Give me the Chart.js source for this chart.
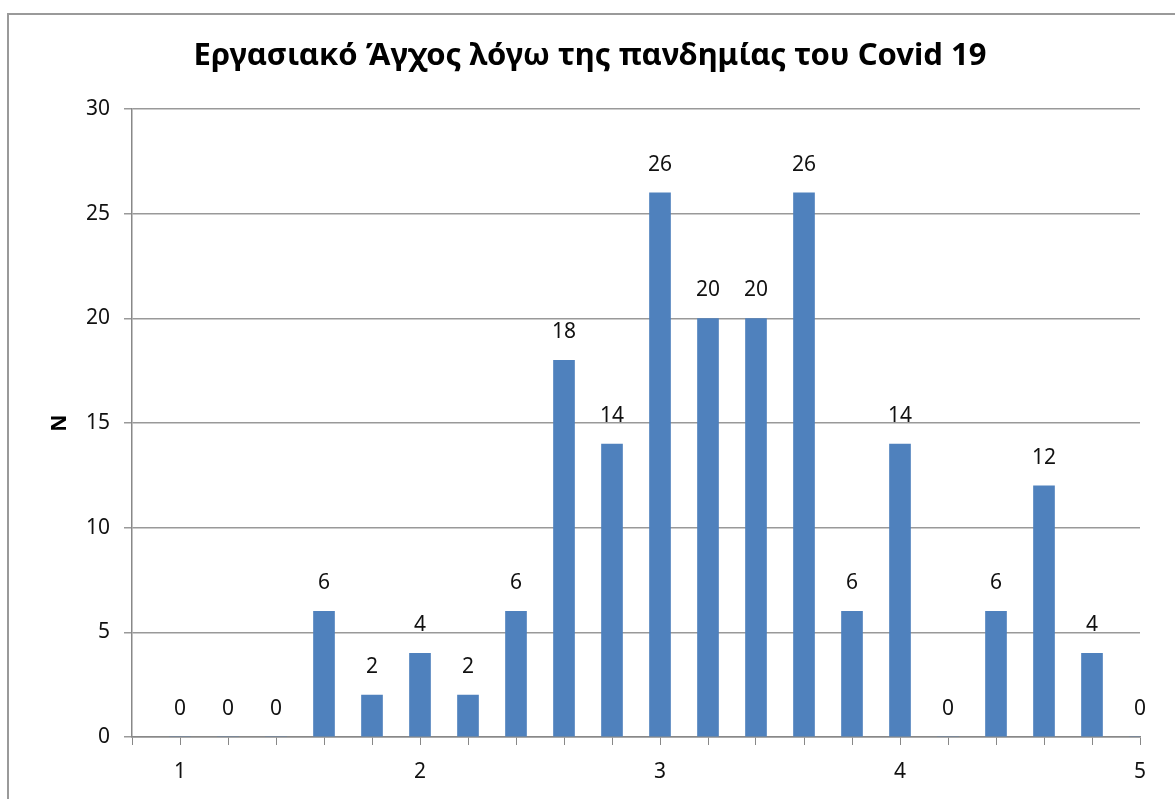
<!DOCTYPE html>
<html>
<head>
<meta charset="utf-8">
<script src="https://cdn.jsdelivr.net/npm/chart.js@4.4.0/dist/chart.umd.min.js"></script>
<style>
  html, body { margin: 0; padding: 0; background: #fff; }
  #wrap { width: 1175px; height: 799px; position: relative; }
</style>
</head>
<body>
<div id="wrap"><canvas id="chart" width="1175" height="799"></canvas></div>
<script>
// stress score (x) and counts (N)
var scores = [1, 1.2, 1.4, 1.6, 1.8, 2, 2.2, 2.4, 2.6, 2.8, 3, 3.2, 3.4, 3.6, 3.8, 4, 4.2, 4.4, 4.6, 4.8, 5];
var counts = [0, 0, 0, 6, 2, 4, 2, 6, 18, 14, 26, 20, 20, 26, 6, 14, 0, 6, 12, 4, 0];
var xLabels = [1, 2, 3, 4, 5];

var FONT = "'Noto Sans', 'Open Sans', sans-serif";

// outer frame like the spreadsheet chart box
var framePlugin = {
  id: 'frame',
  beforeDraw: function (chart) {
    var ctx = chart.ctx;
    ctx.save();
    ctx.strokeStyle = '#9a9a9a';
    ctx.lineWidth = 2;
    ctx.strokeRect(8, 14, 1200, 820);
    ctx.restore();
  }
};

// value above each bar
var valueLabels = {
  id: 'valueLabels',
  afterDatasetsDraw: function (chart) {
    var ctx = chart.ctx;
    var meta = chart.getDatasetMeta(0);
    ctx.save();
    ctx.font = '21px ' + FONT;
    ctx.fillStyle = '#111';
    ctx.textAlign = 'center';
    ctx.textBaseline = 'middle';
    meta.data.forEach(function (bar, i) {
      ctx.fillText(counts[i], bar.x, bar.y - 28);
    });
    ctx.restore();
  }
};

var ctx = document.getElementById('chart').getContext('2d');
var chart = new Chart(ctx, {
  type: 'bar',
  data: {
    datasets: [{
      data: scores.map(function (s, i) { return { x: s, y: counts[i] }; }),
      backgroundColor: '#4f81bd',
      barThickness: 21
    }]
  },
  options: {
    responsive: false,
    animation: false,
    layout: { padding: { left: 40, right: 35, top: 0, bottom: 0 } },
    plugins: {
      legend: { display: false },
      tooltip: { enabled: false },
      title: {
        display: true,
        text: 'Εργασιακό Άγχος λόγω της πανδημίας του Covid 19',
        color: '#000',
        font: { family: FONT, size: 31, weight: 'bold' },
        padding: { top: 38, bottom: 34 }
      }
    },
    scales: {
      x: {
        type: 'linear',
        min: 0.8,
        max: 5,
        offset: false,
        grid: { offset: false, drawOnChartArea: false, drawTicks: true, tickLength: 8, color: '#888' },
        border: { color: '#888', width: 1.5 },
        ticks: {
          stepSize: 0.2,
          autoSkip: false,
          maxRotation: 0,
          padding: 14,
          color: '#111',
          font: { family: FONT, size: 21 },
          callback: function (v) {
            var r = Math.round(v);
            return (Math.abs(v - r) < 1e-6 && xLabels.indexOf(r) !== -1) ? String(r) : '';
          }
        },
        afterFit: function (scale) { scale.height = 62; }
      },
      y: {
        min: 0,
        max: 30,
        grid: { color: '#999', lineWidth: 1.5, tickLength: 8 },
        border: { color: '#888', width: 1.5 },
        ticks: {
          stepSize: 5,
          padding: 14,
          color: '#111',
          font: { family: FONT, size: 21 }
        },
        title: {
          display: true,
          text: 'N',
          color: '#000',
          font: { family: FONT, size: 21, weight: 'bold' },
          padding: { top: 7, bottom: 0 }
        },
        afterFit: function (scale) { scale.width = 92; }
      }
    }
  },
  plugins: [framePlugin, valueLabels]
});
</script>
</body>
</html>
